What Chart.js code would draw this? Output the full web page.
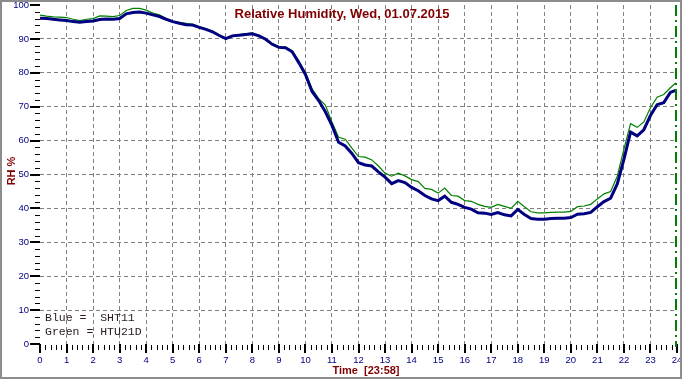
<!DOCTYPE html>
<html>
<head>
<meta charset="utf-8">
<script src="https://cdn.jsdelivr.net/npm/chart.js@4/dist/chart.umd.min.js"></script>
<style>
  html, body { margin: 0; padding: 0; background: #ffffff; }
  #wrap { width: 682px; height: 380px; position: relative; }
</style>
</head>
<body>
<div id="wrap"><canvas id="c" width="682" height="380"></canvas></div>
<script>
// ---- data ----
const titleText = 'Relative Humidity, Wed, 01.07.2015';
const yTitle = 'RH %';
const xTitle = 'Time  [23:58]';
const legendLines = ['Blue =  SHT11', 'Green = HTU21D'];
const nowHour = 23.98; // 23:58 marker

const hours = [
  0.00, 0.25, 0.50, 0.75, 1.00, 1.25, 1.50, 1.75, 2.00, 2.25, 2.50, 2.75,
  3.00, 3.25, 3.50, 3.75, 4.00, 4.25, 4.50, 4.75, 5.00, 5.25, 5.50, 5.75,
  6.00, 6.25, 6.50, 6.75, 7.00, 7.25, 7.50, 7.75, 8.00, 8.25, 8.50, 8.75,
  9.00, 9.25, 9.50, 9.75, 10.00, 10.25, 10.50, 10.75, 11.00, 11.25, 11.50, 11.75,
  12.00, 12.25, 12.50, 12.75, 13.00, 13.25, 13.50, 13.75, 14.00, 14.25, 14.50, 14.75,
  15.00, 15.25, 15.50, 15.75, 16.00, 16.25, 16.50, 16.75, 17.00, 17.25, 17.50, 17.75,
  18.00, 18.25, 18.50, 18.75, 19.00, 19.25, 19.50, 19.75, 20.00, 20.25, 20.50, 20.75,
  21.00, 21.25, 21.50, 21.75, 22.00, 22.25, 22.50, 22.75, 23.00, 23.25, 23.50, 23.75,
  23.95
];

// Blue = SHT11
const sht11 = [
  96.1, 96.0, 95.8, 95.6, 95.4, 95.1, 94.9, 95.1, 95.3, 95.7, 95.9, 95.8,
  96.0, 97.4, 97.8, 97.9, 97.6, 97.1, 96.6, 95.8, 95.1, 94.6, 94.2, 94.1,
  93.4, 92.8, 92.1, 91.0, 90.1, 90.9, 91.1, 91.3, 91.5, 90.9, 89.9, 88.4,
  87.5, 87.4, 86.2, 83.0, 79.5, 74.5, 71.8, 68.5, 64.5, 59.5, 58.4, 56.2,
  53.5, 52.8, 52.5, 50.8, 49.2, 47.3, 48.2, 47.6, 46.2, 45.2, 43.8, 42.8,
  42.3, 43.6, 41.8, 41.2, 40.3, 39.8, 38.7, 38.6, 38.2, 38.8, 38.1, 37.8,
  39.7, 38.2, 37.0, 36.8, 36.8, 37.0, 37.1, 37.1, 37.3, 38.3, 38.4, 38.8,
  40.5, 42.0, 43.0, 47.2, 54.5, 62.5, 61.4, 63.2, 67.4, 70.6, 71.2, 74.2,
  74.8
];

// Green = HTU21D
const htu21d = [
  97.0, 96.7, 96.5, 96.4, 96.3, 95.8, 95.4, 95.8, 96.0, 96.8, 96.7, 96.6,
  96.9, 98.4, 99.0, 99.0, 98.5, 97.6, 97.1, 96.0, 95.2, 94.9, 94.6, 94.3,
  93.6, 93.0, 92.3, 91.2, 90.2, 91.0, 91.3, 91.5, 91.8, 91.0, 90.1, 88.6,
  87.7, 87.6, 86.5, 83.5, 80.0, 75.3, 72.4, 70.5, 65.5, 61.0, 60.4, 57.8,
  55.3, 55.1, 54.3, 52.5, 50.4, 49.5, 50.4, 49.6, 48.5, 47.9, 45.9, 45.6,
  44.5, 46.0, 43.8, 43.6, 42.3, 42.1, 41.2, 40.6, 40.3, 41.2, 40.6, 40.0,
  42.1, 40.5, 39.0, 38.7, 38.7, 38.8, 38.9, 38.9, 39.1, 40.5, 40.7, 41.2,
  42.8, 44.3, 45.0, 49.5, 57.5, 65.0, 63.9, 65.5, 69.7, 72.8, 73.6, 75.6,
  77.0
];

const xMin = 0, xMax = 24, xMajor = 1, xMinor = 0.2;
const yMin = 0, yMax = 100, yMajor = 10, yMinor = 2;

// ---- helpers ----
function isMajor(v, step) {
  const r = v / step;
  return Math.abs(r - Math.round(r)) < 1e-6;
}
function noPad(s) {
  s.paddingLeft = 0; s.paddingRight = 0; s.paddingTop = 0; s.paddingBottom = 0;
}

const decorPlugin = {
  id: 'decor',
  beforeDraw(chart) {
    const ctx = chart.ctx;
    ctx.save();
    ctx.fillStyle = '#ffffff';
    ctx.fillRect(0, 0, chart.width, chart.height);
    ctx.restore();
  },
  afterDraw(chart) {
    const ctx = chart.ctx;
    const ca = chart.chartArea;
    const xs = chart.scales.x, ys = chart.scales.y;
    ctx.save();

    // y ticks
    ctx.strokeStyle = '#000000';
    ys.ticks.forEach(t => {
      const py = Math.round(ys.getPixelForValue(t.value));
      const maj = isMajor(t.value, yMajor);
      ctx.lineWidth = maj ? 2 : 1;
      ctx.beginPath();
      ctx.moveTo(ca.left - (maj ? 10 : 5), py + (maj ? 0 : 0.5));
      ctx.lineTo(ca.left, py + (maj ? 0 : 0.5));
      ctx.stroke();
    });
    // x ticks
    xs.ticks.forEach(t => {
      const px = Math.round(xs.getPixelForValue(t.value));
      const maj = isMajor(t.value, xMajor);
      ctx.lineWidth = maj ? 2 : 1;
      ctx.beginPath();
      ctx.moveTo(px + (maj ? 0 : 0.5), ca.bottom + (maj ? 0 : 1));
      ctx.lineTo(px + (maj ? 0 : 0.5), ca.bottom + (maj ? 9 : 6));
      ctx.stroke();
    });

    // "now" marker
    const nx = Math.round(xs.getPixelForValue(nowHour));
    ctx.strokeStyle = '#008000';
    ctx.lineWidth = 2;
    ctx.setLineDash([11, 4, 2, 4]);
    ctx.beginPath();
    ctx.moveTo(nx, ca.top);
    ctx.lineTo(nx, ca.bottom + 3);
    ctx.stroke();
    ctx.setLineDash([]);

    // title
    ctx.fillStyle = '#800000';
    ctx.font = 'bold 13px "Liberation Sans", Arial, sans-serif';
    ctx.textAlign = 'center';
    ctx.textBaseline = 'alphabetic';
    ctx.fillText(titleText, 342, 18);

    // x title
    ctx.font = 'bold 11px "Liberation Sans", Arial, sans-serif';
    ctx.fillText(xTitle, 366, 374);

    // y title
    ctx.save();
    ctx.translate(15, 171);
    ctx.rotate(-Math.PI / 2);
    ctx.fillText(yTitle, 0, 0);
    ctx.restore();

    // legend text
    ctx.fillStyle = '#2a1a1a';
    ctx.font = '11.5px "Liberation Mono", "Courier New", monospace';
    ctx.textAlign = 'left';
    ctx.fillText(legendLines[0], 45, 321);
    ctx.fillText(legendLines[1], 45, 335);

    // outer frame
    ctx.strokeStyle = '#8c8c8c';
    ctx.lineWidth = 2;
    ctx.strokeRect(1, 1, 680, 377);
    ctx.restore();
  }
};

new Chart(document.getElementById('c'), {
  type: 'line',
  data: {
    datasets: [
      {
        label: 'SHT11',
        data: sht11.map((v, i) => ({ x: hours[i], y: v })),
        borderColor: '#000080',
        borderWidth: 3,
        pointRadius: 0,
        tension: 0,
        fill: false
      },
      {
        label: 'HTU21D',
        data: htu21d.map((v, i) => ({ x: hours[i], y: v })),
        borderColor: '#008000',
        borderWidth: 1.2,
        pointRadius: 0,
        tension: 0,
        fill: false
      }
    ]
  },
  options: {
    responsive: false,
    animation: false,
    events: [],
    layout: { padding: { left: 0, right: 5, top: 5, bottom: 0 } },
    plugins: {
      legend: { display: false },
      title: { display: false },
      tooltip: { enabled: false }
    },
    scales: {
      x: {
        type: 'linear',
        min: xMin, max: xMax,
        afterFit(s) { s.height = 36; noPad(s); },
        border: { display: false, dash: [4, 3] },
        grid: {
          drawTicks: false,
          lineWidth: 1,
          color(c) {
            const v = c.tick ? c.tick.value : 0;
            return (isMajor(v, xMajor) && v > xMin && v < xMax) ? '#808080' : 'rgba(0,0,0,0)';
          }
        },
        ticks: {
          stepSize: xMinor,
          autoSkip: false,
          maxRotation: 0,
          padding: 11,
          color: '#000080',
          font: { family: '"Liberation Sans", Arial, sans-serif', size: 9.5 },
          callback(v) { return isMajor(v, xMajor) ? String(Math.round(v)) : ''; }
        }
      },
      y: {
        min: yMin, max: yMax,
        afterFit(s) { s.width = 40; noPad(s); },
        border: { display: false, dash: [4, 3] },
        grid: {
          drawTicks: false,
          lineWidth: 1,
          color(c) {
            const v = c.tick ? c.tick.value : 0;
            return (isMajor(v, yMajor) && v > yMin && v < yMax) ? '#808080' : 'rgba(0,0,0,0)';
          }
        },
        ticks: {
          stepSize: yMinor,
          autoSkip: false,
          padding: 11,
          color: '#000080',
          font: { family: '"Liberation Sans", Arial, sans-serif', size: 9.5 },
          callback(v) { return isMajor(v, yMajor) ? String(Math.round(v)) : ''; }
        }
      }
    }
  },
  plugins: [decorPlugin]
});
</script>
</body>
</html>
